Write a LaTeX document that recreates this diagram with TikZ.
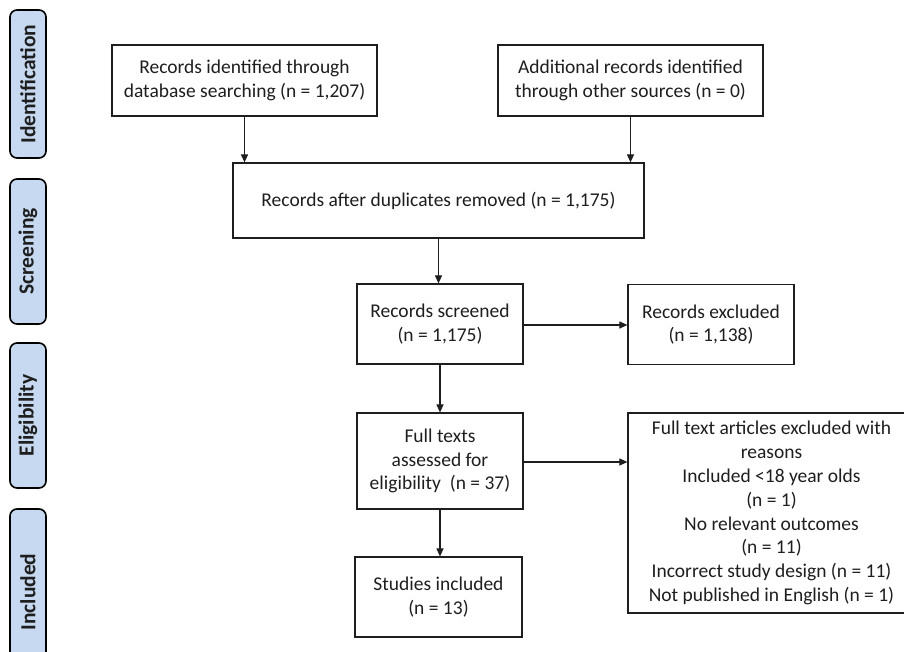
\documentclass[tikz,border=0pt]{standalone}
\usepackage{fontspec}
\setmainfont{Carlito}
\usetikzlibrary{arrows.meta}
\definecolor{lblue}{HTML}{C6D9F1}
\definecolor{ink}{HTML}{1E1E1E}
\begin{document}
\begin{tikzpicture}[x=1pt,y=-1pt,
  box/.style={draw=ink, line width=1.2pt, rectangle, align=center, inner sep=0pt, text=ink,
    font=\fontsize{19.5}{23.8}\selectfont},
  arr/.style={draw=ink, line width=1.1pt, -{Triangle[length=8pt,width=7pt]}},
  stage/.style={draw=black, line width=1.6pt, fill=lblue, rounded corners=7pt, inner sep=0pt},
  stagetxt/.style={rotate=90, inner sep=0pt, text=ink, font=\fontsize{21.5}{24}\selectfont\bfseries}]
\useasboundingbox (0,0) rectangle (904,651);
\clip (0,0) rectangle (904,651);
\fill[white] (0,0) rectangle (904,651);

% stage labels
\node[stage, minimum width=36pt, minimum height=148pt] (s1) at (28,84) {};
\node[stagetxt] (s1t) at (s1.center) {Identification};
\node[stage, minimum width=36pt, minimum height=145pt] (s2) at (28,251.5) {};
\node[stagetxt] (s2t) at (s2.center) {Screening};
\node[stage, minimum width=36pt, minimum height=145pt] (s3) at (28,415.5) {};
\node[stagetxt] (s3t) at (s3.center) {Eligibility};
\node[stage, minimum width=36pt, minimum height=170pt] (s4) at (28,594) {};
\node[stagetxt] (s4t) at (28,592) {Included};

% boxes
\node[box, minimum width=265pt, minimum height=71pt] (A) at (244.5,80.5)
  {Records identified through\\database searching (n = 1,207)};
\node[box, minimum width=265pt, minimum height=71pt] (B) at (630.5,80.5)
  {Additional records identified\\through other sources (n = 0)};
\node[box, minimum width=411pt, minimum height=75pt] (C) at (438.5,200.5)
  {Records after duplicates removed (n = 1,175)};
\node[box, minimum width=166pt, minimum height=80pt] (D) at (440,324)
  {Records screened\\(n = 1,175)};
\node[box, minimum width=166pt, minimum height=80pt] (E) at (711,324.5)
  {Records excluded\\(n = 1,138)};
\node[box, minimum width=166pt, minimum height=96pt] (F) at (440,461)
  {Full texts\\assessed for\\eligibility\ \ (n = 37)};
\node[box, minimum width=287pt, minimum height=200pt] (G) at (771.5,513)
  {Full text articles excluded with\\reasons\\Included <18 year olds\\(n = 1)\\No relevant outcomes\\(n = 11)\\Incorrect study design (n = 11)\\Not published in English (n = 1)};
\node[box, minimum width=167pt, minimum height=80pt] (H) at (438.5,597)
  {Studies included\\(n = 13)};

% connectors
\draw[arr] (A.south) -- (A.south |- C.north);
\draw[arr] (B.south) -- (B.south |- C.north);
\draw[arr] (C.south) -- (C.south |- D.north);
\draw[arr] (D.east |- 0,325) -- (E.west |- 0,325);
\draw[arr] (D.south) -- (D.south |- F.north);
\draw[arr] (F.east |- 0,462) -- (G.west |- 0,462);
\draw[arr] (F.south) -- (F.south |- H.north);
\end{tikzpicture}
\end{document}
